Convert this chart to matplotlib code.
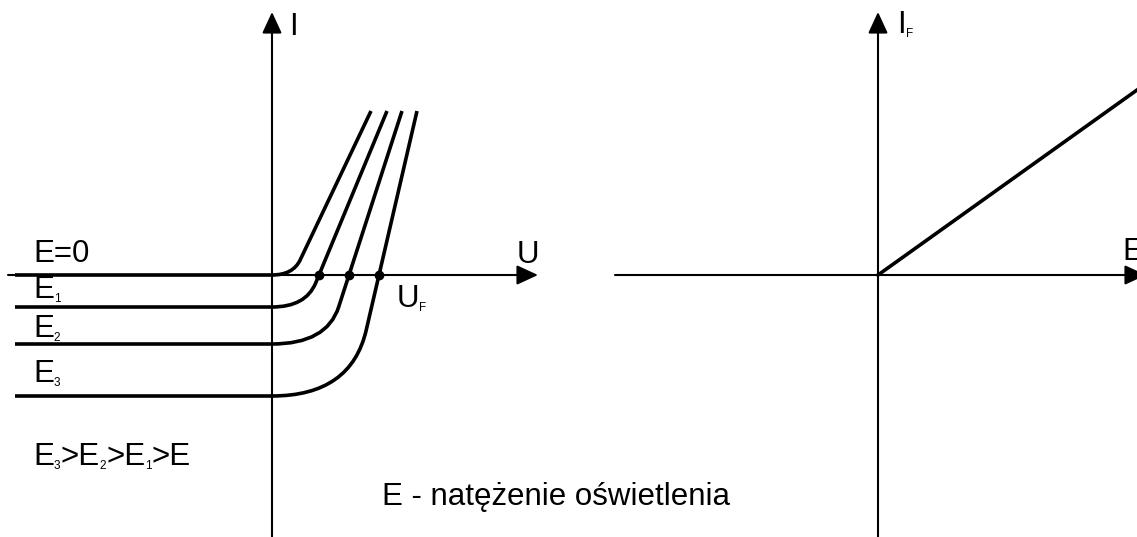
import matplotlib.pyplot as plt
from matplotlib.path import Path
from matplotlib.patches import PathPatch

plt.rcParams['font.family'] = ['Liberation Sans', 'DejaVu Sans']

# diode characteristics for growing illumination (schematic units)
curve_names = ["E=0", "E", "E", "E"]
curve_subs = ["", "1", "2", "3"]
levels = [0, -32, -69, -121]          # reverse (photo) current level
u_zero = [21, 47, 77, 107]            # steep part crosses I = 0
u_top = [99, 115, 130, 145]
i_top = 164
bend_end = [15, -8, -32, -55]         # current where bend meets the steep part
u_start = -257

# right panel: I_F proportional to E
right_origin = 606
e_vals = [0, 259]
if_vals = [0, 185]

fig = plt.figure(figsize=(11.37, 5.37), dpi=100)
ax = fig.add_axes([0, 0, 1, 1])
ax.set_xlim(-272, 865)
ax.set_ylim(-262, 275)
ax.axis("off")

arrow = dict(arrowstyle="-|>,head_length=13,head_width=6", mutation_scale=1,
             lw=1.5, color="black", shrinkA=0, shrinkB=0)


def axis_arrow(x0, y0, x1, y1):
    ax.annotate("", xy=(x1, y1), xytext=(x0, y0), arrowprops=arrow,
                annotation_clip=False)


# left axes
axis_arrow(-264, 0, 266, 0)
axis_arrow(0, -262, 0, 263)
# right axes
axis_arrow(right_origin - 263, 0, right_origin + 268, 0)
axis_arrow(right_origin, -262, right_origin, 263)

for lvl, uz, ut, be in zip(levels, u_zero, u_top, bend_end):
    slope = i_top / (ut - uz)
    corner = uz + lvl / slope
    verts = [(u_start, lvl), (0, lvl), (corner, lvl), (uz + be / slope, be), (ut, i_top)]
    codes = [Path.MOVETO, Path.LINETO, Path.CURVE3, Path.CURVE3, Path.LINETO]
    ax.add_patch(PathPatch(Path(verts, codes), fill=False, lw=2.6, color="black"))

# U_F points
ax.plot(u_zero[1:], [0] * 3, "o", color="black", ms=6)

ax.plot([right_origin + e for e in e_vals], if_vals, color="black", lw=2.6)

fs, fs_sub = 22.5, 8.5
label_base = [13, -23, -62, -107]
for name, sub, yb in zip(curve_names, curve_subs, label_base):
    t = ax.text(-239, yb, name, fontsize=fs, va="baseline")
    if sub:
        ax.annotate(sub, xy=(1, 0), xycoords=t, fontsize=fs_sub, va="bottom")


def chain(x, y, parts):
    t = ax.text(x, y, parts[0][0], fontsize=fs, va="baseline")
    for txt, small in parts[1:]:
        t = ax.annotate(txt, xy=(1, 0), xycoords=t,
                        fontsize=fs_sub if small else fs, va="bottom")


chain(-239, -190, [("E", 0), ("3", 1), (">E", 0), ("2", 1), (">E", 0), ("1", 1), (">E", 0)])
chain(125, -32, [("U", 0), ("F", 1)])
chain(625, 242, [("I", 0), ("F", 1)])
ax.text(17, 240, "I", fontsize=fs, va="baseline")
ax.text(245, 12, "U", fontsize=fs, va="baseline")
ax.text(850, 15, "E", fontsize=fs, va="baseline")
ax.text(110, -230, "E - natężenie oświetlenia", fontsize=fs, va="baseline")

fig.savefig("out.png", dpi=100)
